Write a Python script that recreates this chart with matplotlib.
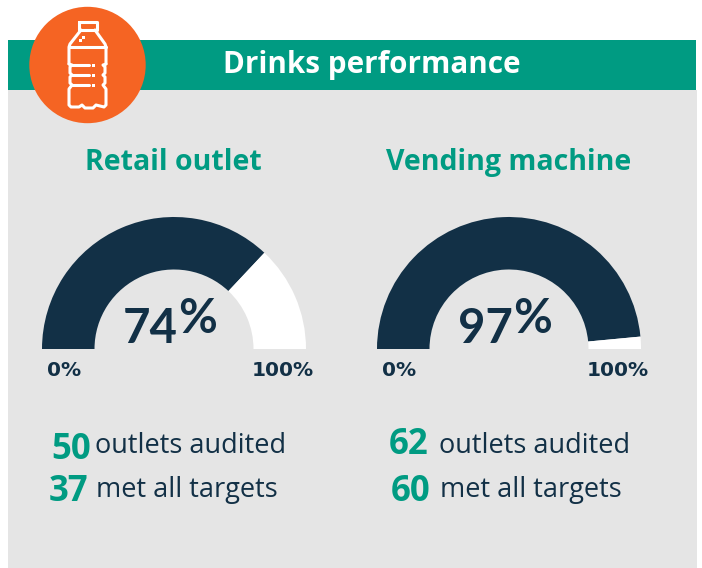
import matplotlib.pyplot as plt
from matplotlib.patches import Wedge, Rectangle, Circle

# data
titles = ['Retail outlet', 'Vending machine']
percent = [74, 97]
audited = [50, 62]
met = [37, 60]
low_label = '0%'
high_label = '100%'
audited_label = 'outlets audited'
met_label = 'met all targets'
header = 'Drinks performance'

# colours
green = '#009B82'
navy = '#123046'
grey = '#E5E5E5'
orange = '#F56423'

plt.rcParams['font.family'] = ['Open Sans', 'DejaVu Sans']

fig = plt.figure(figsize=(7.02, 5.68), dpi=100)
ax = fig.add_axes([0, 0, 1, 1])
ax.set_xlim(0, 702)
ax.set_ylim(568, 0)
ax.axis('off')

# background panels
ax.add_patch(Rectangle((8, 90), 689, 478, color=grey, lw=0))
ax.add_patch(Rectangle((8, 40), 688, 50, color=green, lw=0))
ax.text(371.5, 73, header, color='white', fontsize=21.3, fontweight='bold', ha='center', va='baseline')

# bottle badge
ax.add_patch(Circle((87.5, 65), 58.2, color=orange, lw=0))
line = dict(color='white', lw=2.2, solid_capstyle='round', solid_joinstyle='round')
ax.plot([79, 96.5, 96.5, 79, 79], [22, 22, 30, 30, 22], **line)
ax.plot([81, 70, 69, 69], [30, 44, 47, 64], **line)
ax.plot([95, 105, 106, 106], [30, 44, 47, 64], **line)
ax.plot([69, 106], [47, 47], **line)
ax.plot([72, 89], [65, 65], **line)
ax.plot([72, 89], [75, 75], **line)
ax.plot([72, 89], [85, 85], **line)
ax.plot([69, 72, 70, 70, 72, 70, 70, 72, 69, 69, 71, 79, 82, 85, 93, 96, 104, 106, 106, 103, 105, 105, 103, 105, 105, 103, 106],
        [64, 65, 67, 73, 75, 77, 83, 85, 89, 105, 107, 107, 105, 108, 108, 105, 107, 105, 89, 85, 83, 77, 75, 73, 67, 65, 64], **line)
for px, py in [(93, 65), (93, 75), (93, 85), (80, 40), (83, 37)]:
    ax.add_patch(Rectangle((px - 1.5, py - 1.5), 3, 3, color='white', lw=0))

# gauges
centres = [174, 509]
base_y = 349
outer = 132
inner = 79.5
audited_x = [91, 428]
audited_y = [459, 454]
met_x = [88, 430]
label_x = [95, 439]
for i in range(2):
    cx = centres[i]
    end = 180 + 180 * percent[i] / 100
    ax.add_patch(Wedge((cx, base_y), outer, 180, end, width=outer - inner, color=navy, lw=0))
    ax.add_patch(Wedge((cx, base_y), outer, end, 360, width=outer - inner, color='white', lw=0))

    ax.text(cx + 4, 343, str(percent[i]), color=navy, fontsize=34, fontweight='bold', ha='right', va='baseline', family='Lato')
    ax.text(cx + 4, 333, '%', color=navy, fontsize=34, fontweight='bold', ha='left', va='baseline', family='Lato')

    ax.text(cx - 127, 376, low_label, color=navy, fontsize=14.5, fontweight='bold', ha='left', va='baseline', family='DejaVu Sans')
    ax.text(cx + 140, 376, high_label, color=navy, fontsize=14.5, fontweight='bold', ha='right', va='baseline', family='DejaVu Sans')

    ax.text(cx - 0.5 + i * 0.5, 170, titles[i], color=green, fontsize=20.5, fontweight='bold', ha='center', va='baseline')

    ax.text(audited_x[i], audited_y[i], str(audited[i]), color=green, fontsize=25, fontweight='bold', ha='right', va='baseline')
    ax.text(met_x[i], 501, str(met[i]), color=green, fontsize=25, fontweight='bold', ha='right', va='baseline')
    ax.text(label_x[i], 453, audited_label, color=navy, fontsize=19.5, ha='left', va='baseline')
    ax.text(label_x[i] + 1, 497, met_label, color=navy, fontsize=19.5, ha='left', va='baseline')

plt.savefig('out.png', dpi=100)
